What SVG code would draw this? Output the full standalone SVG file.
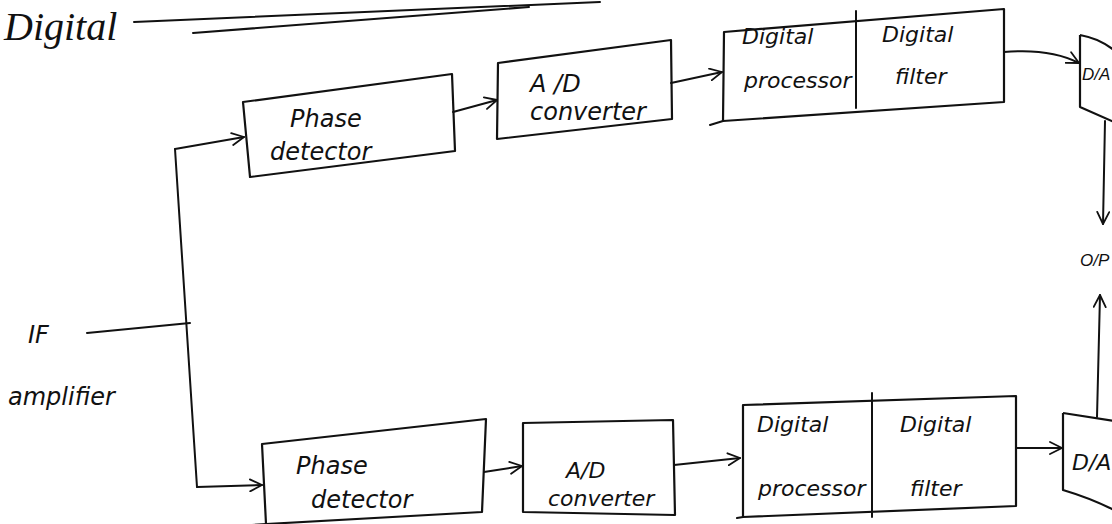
<svg xmlns="http://www.w3.org/2000/svg" width="1112" height="524" viewBox="0 0 1112 524">
<defs>
<marker id="arr" viewBox="0 0 14 14" refX="13" refY="7" markerWidth="14" markerHeight="14" markerUnits="userSpaceOnUse" orient="auto">
<path d="M1,1 L13,7 L1,13" fill="none" stroke="#111" stroke-width="1.8" stroke-linecap="round" stroke-linejoin="round"/>
</marker>
</defs>
<style>
.box{fill:none;stroke:#111;stroke-width:2.2;stroke-linejoin:round}
.ln{fill:none;stroke:#111;stroke-width:2;stroke-linecap:round}
.t{font-family:"DejaVu Sans","Liberation Sans",sans-serif;font-style:italic;font-size:24px;fill:#111}
.s{font-size:22px}
.e{font-family:"Liberation Sans",sans-serif;font-size:17px}
</style>
<rect width="1112" height="524" fill="#ffffff"/>

<g id="title">
<text x="4" y="40" style="font-family:'Liberation Serif',serif;font-style:italic;font-size:40px;fill:#111">Digital</text>
<path class="ln" d="M134,22 L600,2"/>
<path class="ln" d="M193,33 L529,7"/>
</g>

<g id="if-amplifier">
<text class="t" x="28" y="343">IF</text>
<text class="t" x="8" y="405">amplifier</text>
</g>

<g id="phase-detector-1">
<polygon class="box" points="243,102 452,74 455,151 250,177"/>
<text class="t" x="290" y="127">Phase</text>
<text class="t" x="270" y="160">detector</text>
</g>

<g id="ad-converter-1">
<polygon class="box" points="498,63 671,40 672,119 497,139"/>
<text class="t" x="530" y="92">A /D</text>
<text class="t" x="530" y="120">converter</text>
</g>

<g id="processor-filter-1">
<polygon class="box" points="724,32 1004,9 1004,102 723,121"/>
<path class="ln" d="M856,11 L856,108 M723,121 L710,125"/>
<text class="t s" x="742" y="44">Digital</text>
<text class="t s" x="744" y="88">processor</text>
<text class="t s" x="882" y="42">Digital</text>
<text class="t s" x="895" y="84">filter</text>
</g>

<g id="da-1">
<path class="box" d="M1080,35 Q1098,38 1114,50 M1080,35 L1080,107 L1114,122"/>
<text class="t e" x="1082" y="80">D/A</text>
</g>

<g id="output">
<text class="t e" x="1080" y="266">O/P</text>
</g>

<g id="phase-detector-2">
<polygon class="box" points="262,444 486,419 482,512 266,524"/>
<path class="ln" d="M266,524 L252,525"/>
<text class="t" x="296" y="474">Phase</text>
<text class="t" x="311" y="508">detector</text>
</g>

<g id="ad-converter-2">
<polygon class="box" points="523,423 673,420 675,515 523,512"/>
<text class="t s" x="566" y="478">A/D</text>
<text class="t s" x="548" y="506">converter</text>
</g>

<g id="processor-filter-2">
<polygon class="box" points="743,405 1016,396 1016,506 743,517"/>
<path class="ln" d="M872,393 L872,517 M743,517 L737,518"/>
<text class="t s" x="757" y="432">Digital</text>
<text class="t s" x="758" y="496">processor</text>
<text class="t s" x="900" y="432">Digital</text>
<text class="t s" x="910" y="496">filter</text>
</g>

<g id="da-2">
<path class="box" d="M1063,413 L1114,421 M1063,413 L1063,490 Q1090,498 1114,510"/>
<text class="t" x="1072" y="470" style="font-size:22px">D/A</text>
</g>

<g id="connectors">
<path class="ln" d="M87,333 L190,323"/>
<path class="ln" d="M175,149 L197,487"/>
<path class="ln" d="M175,149 L244,137" marker-end="url(#arr)"/>
<path class="ln" d="M197,487 L262,485" marker-end="url(#arr)"/>
<path class="ln" d="M453,112 L497,100" marker-end="url(#arr)"/>
<path class="ln" d="M484,472 L522,466" marker-end="url(#arr)"/>
<path class="ln" d="M671,83 L722,72" marker-end="url(#arr)"/>
<path class="ln" d="M674,465 L740,458" marker-end="url(#arr)"/>
<path class="ln" d="M1004,52 Q1050,48 1079,63" marker-end="url(#arr)"/>
<path class="ln" d="M1016,448 L1062,448" marker-end="url(#arr)"/>
<path class="ln" d="M1105,121 L1103,224" marker-end="url(#arr)"/>
<path class="ln" d="M1097,417 L1100,295" marker-end="url(#arr)"/>
</g>
</svg>
